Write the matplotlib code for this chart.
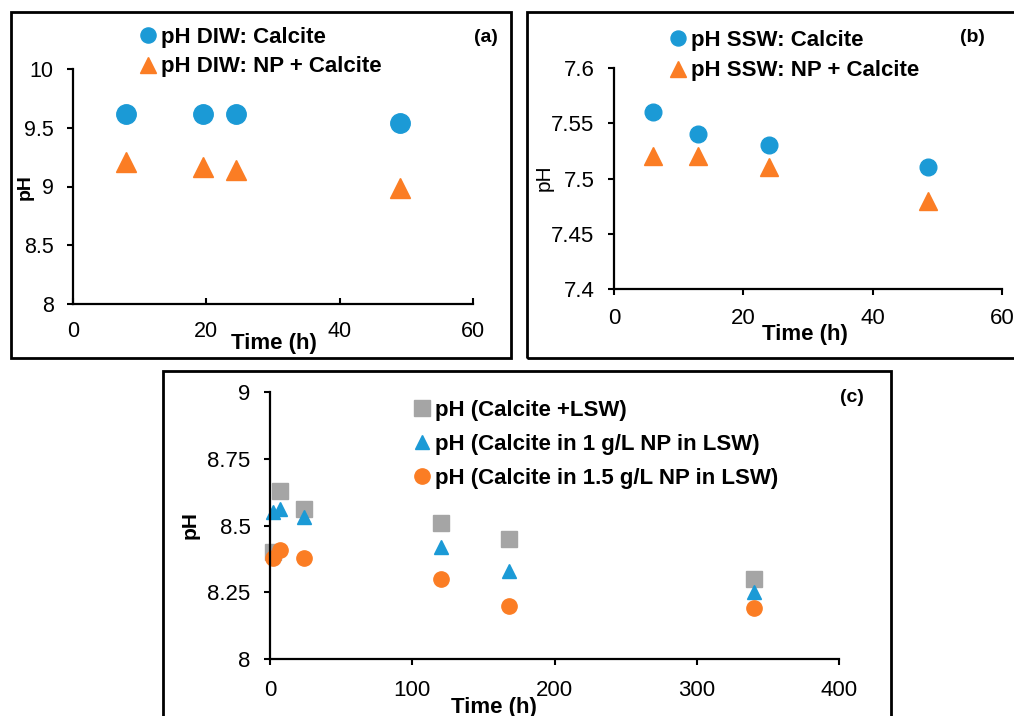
import matplotlib
matplotlib.use("Agg")
import matplotlib.pyplot as plt
from matplotlib.patches import Rectangle

plt.rcParams['font.family'] = ['Liberation Sans', 'DejaVu Sans']

# (a) deionised water
time_diw = [8, 19.5, 24.5, 49]
ph_diw_calcite = [9.62, 9.62, 9.62, 9.54]
ph_diw_np = [9.21, 9.17, 9.14, 8.99]

# (b) synthetic sea water
time_ssw = [6, 13, 24, 48.5]
ph_ssw_calcite = [7.56, 7.54, 7.53, 7.51]
ph_ssw_np = [7.52, 7.52, 7.51, 7.48]

# (c) low salinity water
time_lsw = [2, 7, 24, 120, 168, 340]
ph_lsw = [8.40, 8.63, 8.56, 8.51, 8.45, 8.30]
ph_lsw_np1 = [8.55, 8.56, 8.53, 8.42, 8.33, 8.25]
ph_lsw_np15 = [8.38, 8.41, 8.38, 8.30, 8.20, 8.19]

BLUE = '#1B9AD6'
ORANGE = '#FB7D24'
GREY = '#A5A5A5'

W, H = 1014, 716
fig = plt.figure(figsize=(W / 100, H / 100), dpi=100)


def px_axes(left, top, right, bottom):
    return fig.add_axes([left / W, 1 - bottom / H, (right - left) / W, (bottom - top) / H])


def frame(left, top, right, bottom):
    fig.add_artist(Rectangle((left / W, 1 - bottom / H), (right - left) / W, (bottom - top) / H,
                             transform=fig.transFigure, fill=False, edgecolor='black',
                             linewidth=2.0, clip_on=False))


def style(ax, xlim, xticks, ylim, yticks, yticklabels, size, xdir='out', xpad=11):
    ax.set_xlim(*xlim)
    ax.set_ylim(*ylim)
    ax.set_xticks(xticks)
    ax.set_yticks(yticks)
    ax.set_yticklabels(yticklabels)
    for s in ['top', 'right']:
        ax.spines[s].set_visible(False)
    for s in ['left', 'bottom']:
        ax.spines[s].set_linewidth(1.6)
    ax.tick_params(axis='y', direction='out', length=4, width=1.5, labelsize=size, pad=10)
    ax.tick_params(axis='x', direction=xdir, length=4, width=1.5, labelsize=size, pad=xpad)
    ax.patch.set_alpha(0)


def legend(ax, left, top, spacing, scale=1.0):
    ax.legend(loc='upper left', bbox_to_anchor=(left / W, 1 - top / H),
              bbox_transform=fig.transFigure, frameon=False, borderpad=0,
              borderaxespad=0, handlelength=0.8, handletextpad=0.2,
              labelspacing=spacing, markerscale=scale,
              prop={'size': 16, 'weight': 'bold'})


frame(11, 12, 511, 358)
frame(527, 12, 1030, 358)
frame(163, 371, 891, 740)

# (a)
ax1 = px_axes(73, 69, 473, 304)
ax1.plot(time_diw, ph_diw_calcite, 'o', color=BLUE, markersize=14, label='pH DIW: Calcite')
ax1.plot(time_diw, ph_diw_np, '^', color=ORANGE, markersize=14, label='pH DIW: NP + Calcite')
style(ax1, (0, 60), [0, 20, 40, 60], (8, 10), [8, 8.5, 9, 9.5, 10],
      ['8', '8.5', '9', '9.5', '10'], 15.5, xdir='in', xpad=12)
ax1.set_xlabel('Time (h)', fontsize=16, fontweight='bold', va='center')
ax1.xaxis.set_label_coords(0.5025, -0.166)
ax1.set_ylabel('pH', fontsize=14, fontweight='bold', va='center')
ax1.yaxis.set_label_coords(-0.12, 0.498)
legend(ax1, 139, 27, 0.38, scale=0.78)
fig.text(486 / W, 1 - 37 / H, '(a)', fontsize=14, fontweight='bold', ha='center', va='center')

# (b)
ax2 = px_axes(614, 68, 1002, 289)
ax2.plot(time_ssw, ph_ssw_calcite, 'o', color=BLUE, markersize=12, label='pH SSW: Calcite')
ax2.plot(time_ssw, ph_ssw_np, '^', color=ORANGE, markersize=13.5, label='pH SSW: NP + Calcite')
style(ax2, (0, 60), [0, 20, 40, 60], (7.4, 7.6), [7.4, 7.45, 7.5, 7.55, 7.6],
      ['7.4', '7.45', '7.5', '7.55', '7.6'], 16, xpad=10)
ax2.set_xlabel('Time (h)', fontsize=16, fontweight='bold', va='center')
ax2.xaxis.set_label_coords(0.492, -0.204)
ax2.set_ylabel('pH', fontsize=15, va='center')
ax2.yaxis.set_label_coords(-0.18, 0.502)
legend(ax2, 669, 30, 0.42, scale=0.9)
fig.text(972 / W, 1 - 37 / H, '(b)', fontsize=14, fontweight='bold', ha='center', va='center')

# (c)
ax3 = px_axes(270, 392, 839, 659)
ax3.plot(time_lsw, ph_lsw, 's', color=GREY, markersize=11.5, clip_on=False,
         label='pH (Calcite +LSW)')
ax3.plot(time_lsw, ph_lsw_np1, '^', color=BLUE, markersize=10, clip_on=False,
         label='pH (Calcite in 1 g/L NP in LSW)')
ax3.plot(time_lsw, ph_lsw_np15, 'o', color=ORANGE, markersize=11, clip_on=False,
         label='pH (Calcite in 1.5 g/L NP in LSW)')
style(ax3, (0, 400), [0, 100, 200, 300, 400], (8, 9), [8, 8.25, 8.5, 8.75, 9],
      ['8', '8.25', '8.5', '8.75', '9'], 16)
ax3.set_xlabel('Time (h)', fontsize=16, fontweight='bold', va='center')
ax3.xaxis.set_label_coords(0.394, -0.18)
ax3.set_ylabel('pH', fontsize=15, fontweight='bold', va='center')
ax3.yaxis.set_label_coords(-0.141, 0.5)
legend(ax3, 413, 400, 0.59)
fig.text(852 / W, 1 - 397 / H, '(c)', fontsize=14, fontweight='bold', ha='center', va='center')

fig.savefig('out.png', dpi=100)
